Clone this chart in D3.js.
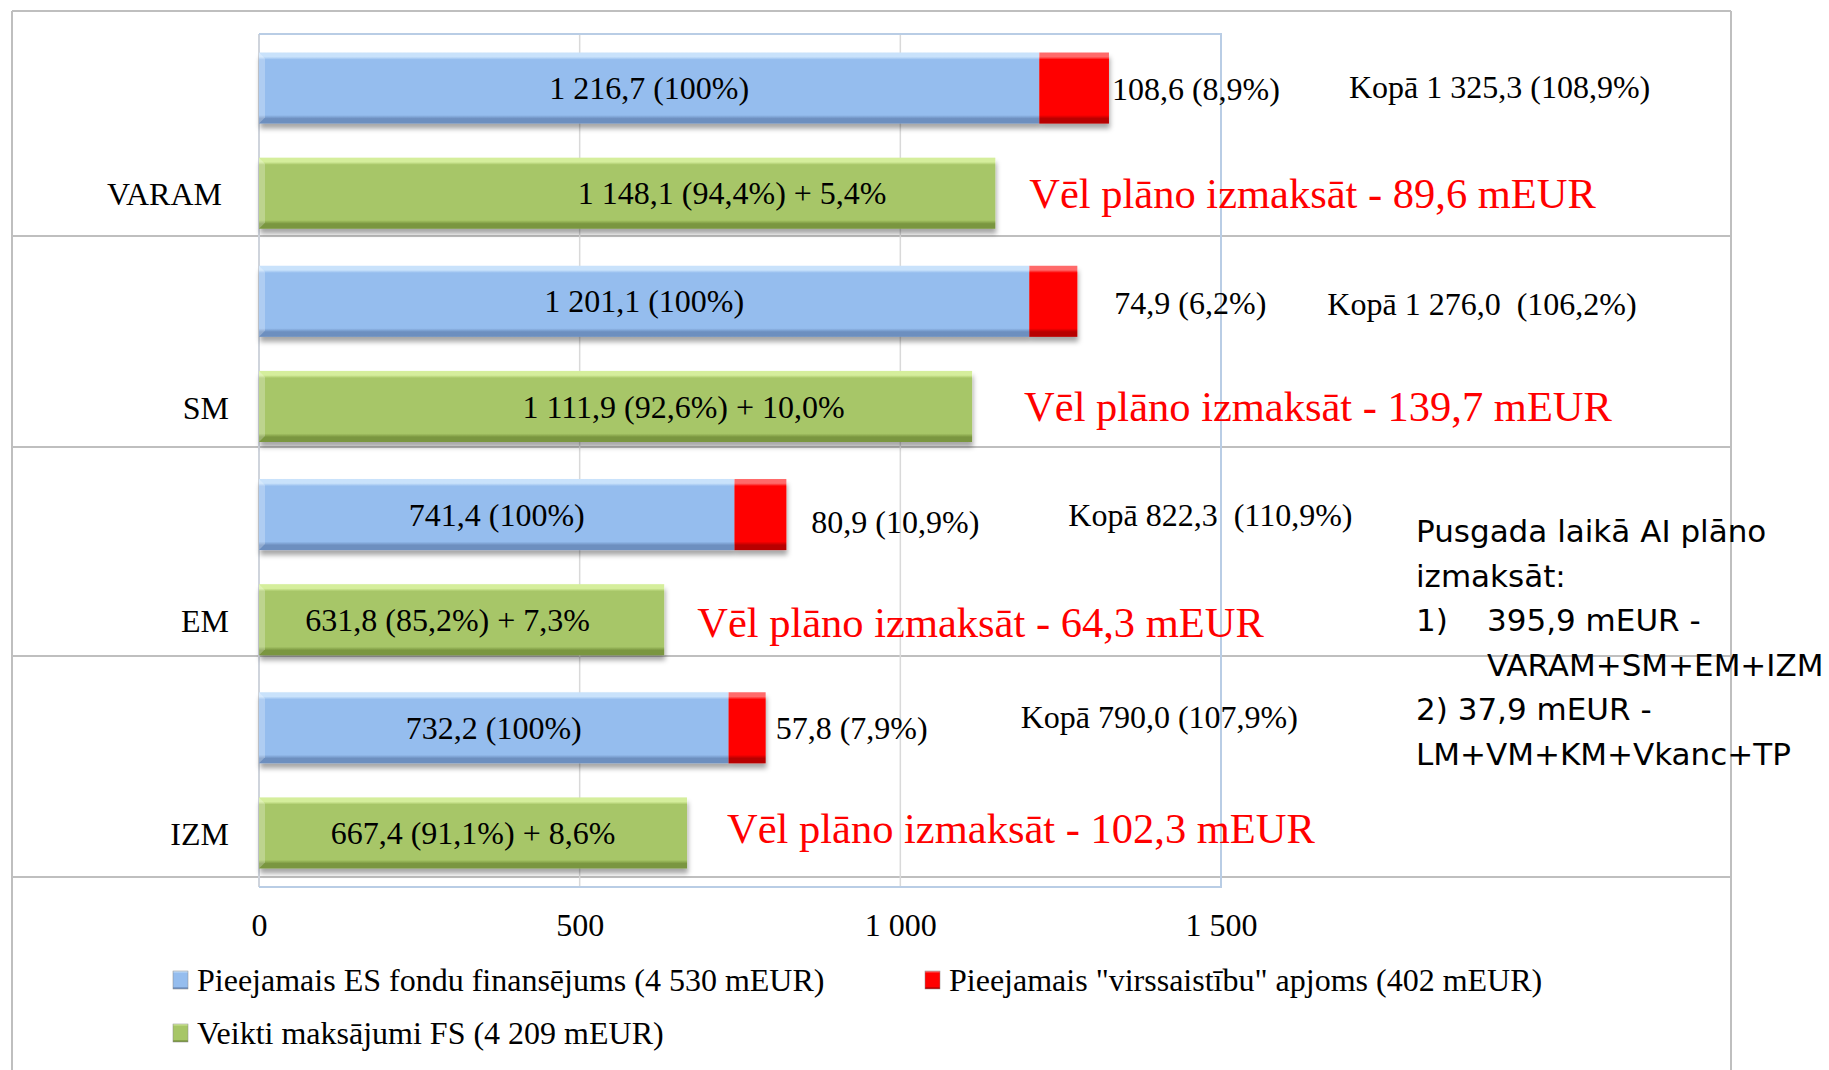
<!DOCTYPE html>
<html>
<head>
<meta charset="utf-8">
<script src="https://cdn.jsdelivr.net/npm/d3@7"></script>
<style>
  body { margin: 0; background: #fff; }
  text { white-space: pre; }
</style>
</head>
<body>
<div class="chart"></div>
<script>
// data (mEUR)
var categories = ["VARAM", "SM", "EM", "IZM"];
var available = [1216.7, 1201.1, 741.4, 732.2];      // Pieejamais ES fondu finansējums
var overCommit = [108.6, 74.9, 80.9, 57.8];          // "virssaistību" apjoms
var paid = [1148.1, 1111.9, 631.8, 667.4];           // Veikti maksājumi FS
var paidExtraPct = [5.4, 10.0, 7.3, 8.6];
var stillPlanned = [89.6, 139.7, 64.3, 102.3];
var xTicks = [0, 500, 1000, 1500];
var legendLabels = [
    "Pieejamais ES fondu finansējums (4 530 mEUR)",
    "Pieejamais \"virssaistību\" apjoms (402 mEUR)",
    "Veikti maksājumi FS (4 209 mEUR)"
];
var noteLines = [
    "Pusgada laikā AI plāno",
    "izmaksāt:",
    "1)",
    "395,9 mEUR -",
    "VARAM+SM+EM+IZM",
    "2) 37,9 mEUR -",
    "LM+VM+KM+Vkanc+TP"
];

var svgWidth = 1829;
var svgHeight = 1070;

var plot = { left: 259, right: 1221, top: 34, bottom: 887 };

// hand placed label nudges (px), as in the original slide
var greenLabelDx = [105, 68, -14, 0];
var redLabelDx = [3, 37, 25, 10];
var redLabelDy = [1, 2, 7, 0];
var kopaDx = [240, 250, 282, 255];
var kopaDy = [-1, 3, 0, -11];
var kopaSep = [" ", "  ", "  ", " "];
var planDx = [34, 52, 33, 40];
var planDy = [0, 0, 2, -5];

var lv = d3.formatLocale({ decimal: ",", thousands: " ", grouping: [3], currency: ["", ""] });
var fmt1 = lv.format(",.1f");
var fmtInt = lv.format(",d");

var serif = "'Liberation Serif', 'Times New Roman', serif";
var fs = 32;

var svg = d3.select(".chart")
    .append("svg")
    .attr("width", svgWidth)
    .attr("height", svgHeight)
    .style("display", "block");

var defs = svg.append("defs");

function bevel(id, light, base, dark) {
    var g = defs.append("linearGradient")
        .attr("id", id)
        .attr("x1", 0).attr("y1", 0).attr("x2", 0).attr("y2", 1);
    g.append("stop").attr("offset", "0%").attr("stop-color", light);
    g.append("stop").attr("offset", "6%").attr("stop-color", light);
    g.append("stop").attr("offset", "10%").attr("stop-color", base);
    g.append("stop").attr("offset", "88%").attr("stop-color", base);
    g.append("stop").attr("offset", "93%").attr("stop-color", dark);
    g.append("stop").attr("offset", "100%").attr("stop-color", dark);
}
bevel("gBlue", "#c9e2fb", "#95bdee", "#6d8fbf");
bevel("gRed", "#ff6a6a", "#ff0000", "#b80000");
bevel("gGreen", "#d5ee9c", "#a7c667", "#7a963f");

defs.append("filter")
    .attr("id", "shadow")
    .attr("x", "-5%").attr("y", "-20%").attr("width", "110%").attr("height", "150%")
    .append("feDropShadow")
    .attr("dx", 1).attr("dy", 5)
    .attr("stdDeviation", 2.5)
    .attr("flood-color", "#000")
    .attr("flood-opacity", 0.35);

// slide table frame behind the chart
var frame = svg.append("g").attr("stroke", "#bfbfbf").attr("stroke-width", 2);
frame.append("line").attr("x1", 12).attr("x2", 1731).attr("y1", 11).attr("y2", 11);
frame.append("line").attr("x1", 12).attr("x2", 12).attr("y1", 11).attr("y2", svgHeight);
frame.append("line").attr("x1", 1731).attr("x2", 1731).attr("y1", 11).attr("y2", svgHeight);
frame.selectAll(".row")
    .data([236, 447, 656, 877])
    .enter()
    .append("line")
    .attr("class", "row")
    .attr("x1", 12).attr("x2", 1731)
    .attr("y1", function (d) { return d; })
    .attr("y2", function (d) { return d; });

var x = d3.scaleLinear().domain([0, 1500]).range([plot.left, plot.right]);
var y = d3.scaleBand().domain(categories).range([plot.top, plot.bottom]);
var sub = d3.scaleBand().domain(["fund", "paid"]).range([0, y.bandwidth()])
    .paddingInner(0.324).paddingOuter(0.176);
var bh = sub.bandwidth();

function yFund(i) { return y(categories[i]) + sub("fund"); }
function yPaid(i) { return y(categories[i]) + sub("paid"); }

// gridlines and plot border
var chart = svg.append("g");
chart.selectAll(".grid")
    .data(xTicks.slice(1, 3))
    .enter()
    .append("line")
    .attr("class", "grid")
    .attr("x1", function (d) { return x(d); })
    .attr("x2", function (d) { return x(d); })
    .attr("y1", plot.top).attr("y2", plot.bottom)
    .attr("stroke", "#d9d9d9").attr("stroke-width", 1.5);

chart.append("line")
    .attr("x1", x(0)).attr("x2", x(0))
    .attr("y1", plot.top).attr("y2", plot.bottom)
    .attr("stroke", "#cfd4dc").attr("stroke-width", 2);

chart.append("path")
    .attr("d", "M" + x(0) + "," + plot.top + "H" + x(1500) + "V" + plot.bottom + "H" + x(0))
    .attr("fill", "none")
    .attr("stroke", "#b9cde5")
    .attr("stroke-width", 2);

var idx = d3.range(categories.length);

var bars = chart.append("g").attr("filter", "url(#shadow)");

bars.selectAll(".fund")
    .data(idx)
    .enter()
    .append("rect")
    .attr("class", "fund")
    .attr("x", x(0))
    .attr("y", function (i) { return yFund(i); })
    .attr("width", function (i) { return x(available[i]) - x(0); })
    .attr("height", bh)
    .attr("fill", "url(#gBlue)");

bars.selectAll(".over")
    .data(idx)
    .enter()
    .append("rect")
    .attr("class", "over")
    .attr("x", function (i) { return x(available[i]); })
    .attr("y", function (i) { return yFund(i); })
    .attr("width", function (i) { return x(available[i] + overCommit[i]) - x(available[i]); })
    .attr("height", bh)
    .attr("fill", "url(#gRed)");

bars.selectAll(".paid")
    .data(idx)
    .enter()
    .append("rect")
    .attr("class", "paid")
    .attr("x", x(0))
    .attr("y", function (i) { return yPaid(i); })
    .attr("width", function (i) { return x(paid[i]) - x(0); })
    .attr("height", bh)
    .attr("fill", "url(#gGreen)");

// left bevel edge of each bar
chart.selectAll(".edge")
    .data(idx.map(function (i) { return yFund(i); }).concat(idx.map(function (i) { return yPaid(i); })))
    .enter()
    .append("path")
    .attr("class", "edge")
    .attr("d", function (d) {
        var x0 = x(0);
        return "M" + x0 + "," + d + "L" + (x0 + 6) + "," + (d + 6) + "L" + (x0 + 6) + "," + (d + bh - 6) + "L" + x0 + "," + (d + bh) + "Z";
    })
    .attr("fill", "#fff")
    .attr("opacity", 0.25);

var labels = svg.append("g")
    .attr("font-family", serif)
    .attr("font-size", fs)
    .attr("fill", "#000");

labels.selectAll(".fundLabel")
    .data(idx)
    .enter()
    .append("text")
    .attr("class", "fundLabel")
    .attr("x", function (i) { return (x(0) + x(available[i])) / 2; })
    .attr("y", function (i) { return yFund(i) + bh / 2; })
    .attr("dy", "0.35em")
    .attr("text-anchor", "middle")
    .text(function (i) { return fmt1(available[i]) + " (100%)"; });

labels.selectAll(".paidLabel")
    .data(idx)
    .enter()
    .append("text")
    .attr("class", "paidLabel")
    .attr("x", function (i) { return (x(0) + x(paid[i])) / 2 + greenLabelDx[i]; })
    .attr("y", function (i) { return yPaid(i) + bh / 2; })
    .attr("dy", "0.35em")
    .attr("text-anchor", "middle")
    .text(function (i) {
        return fmt1(paid[i]) + " (" + fmt1(paid[i] / available[i] * 100) + "%) + " + fmt1(paidExtraPct[i]) + "%";
    });

labels.selectAll(".overLabel")
    .data(idx)
    .enter()
    .append("text")
    .attr("class", "overLabel")
    .attr("x", function (i) { return x(available[i] + overCommit[i]) + redLabelDx[i]; })
    .attr("y", function (i) { return yFund(i) + bh / 2 + redLabelDy[i]; })
    .attr("dy", "0.35em")
    .text(function (i) { return fmt1(overCommit[i]) + " (" + fmt1(overCommit[i] / available[i] * 100) + "%)"; });

labels.selectAll(".kopa")
    .data(idx)
    .enter()
    .append("text")
    .attr("class", "kopa")
    .attr("x", function (i) { return x(available[i] + overCommit[i]) + kopaDx[i]; })
    .attr("y", function (i) { return yFund(i) + bh / 2 + kopaDy[i]; })
    .attr("dy", "0.35em")
    .text(function (i) {
        var t = available[i] + overCommit[i];
        return "Kopā " + fmt1(t) + kopaSep[i] + "(" + fmt1(t / available[i] * 100) + "%)";
    });

labels.selectAll(".plan")
    .data(idx)
    .enter()
    .append("text")
    .attr("class", "plan")
    .attr("x", function (i) { return x(paid[i]) + planDx[i]; })
    .attr("y", function (i) { return yPaid(i) + bh / 2 + planDy[i]; })
    .attr("dy", "0.35em")
    .attr("font-size", 42.5)
    .attr("fill", "#ff0000")
    .text(function (i) { return "Vēl plāno izmaksāt - " + fmt1(stillPlanned[i]) + " mEUR"; });

// category labels sit level with the green bars
labels.selectAll(".cat")
    .data(idx)
    .enter()
    .append("text")
    .attr("class", "cat")
    .attr("x", function (i) { return i === 0 ? 222 : 229; })
    .attr("y", function (i) { return yPaid(i) + bh / 2 + 1; })
    .attr("dy", "0.35em")
    .attr("text-anchor", "end")
    .text(function (i) { return categories[i]; });

// x axis
var xAxis = d3.axisBottom(x)
    .tickValues(xTicks)
    .tickSize(0)
    .tickPadding(0)
    .tickFormat(function (d) { return fmtInt(d); });

var axisG = svg.append("g")
    .attr("transform", "translate(0," + (plot.bottom + 38) + ")")
    .call(xAxis);
axisG.select(".domain").remove();
axisG.selectAll("text")
    .attr("font-family", serif)
    .attr("font-size", fs)
    .attr("fill", "#000")
    .attr("dy", "0.35em");

// legend
var legendItems = [
    { x: 173, y: 980, fill: "url(#gBlue)" },
    { x: 925, y: 980, fill: "url(#gRed)" },
    { x: 173, y: 1033, fill: "url(#gGreen)" }
];
var legend = svg.append("g");
var li = legend.selectAll(".item")
    .data(legendItems)
    .enter()
    .append("g")
    .attr("class", "item")
    .attr("transform", function (d) { return "translate(" + d.x + "," + d.y + ")"; });
li.append("rect")
    .attr("x", 0).attr("y", -9)
    .attr("width", 15).attr("height", 18)
    .attr("fill", function (d) { return d.fill; })
    .attr("stroke", "#888").attr("stroke-width", 0.5);
li.append("text")
    .attr("x", 24)
    .attr("dy", "0.35em")
    .attr("font-family", serif)
    .attr("font-size", fs)
    .text(function (d, i) { return legendLabels[i]; });

// note block on the right
var notePos = [
    [1416, 542], [1416, 587], [1416, 631], [1487, 631],
    [1487, 676], [1416, 720], [1416, 765]
];
svg.append("g")
    .attr("font-family", "'DejaVu Sans', 'Open Sans', sans-serif")
    .attr("font-size", 31)
    .attr("fill", "#000")
    .selectAll("text")
    .data(noteLines)
    .enter()
    .append("text")
    .attr("x", function (d, i) { return notePos[i][0]; })
    .attr("y", function (d, i) { return notePos[i][1]; })
    .text(function (d) { return d; });
</script>
</body>
</html>
